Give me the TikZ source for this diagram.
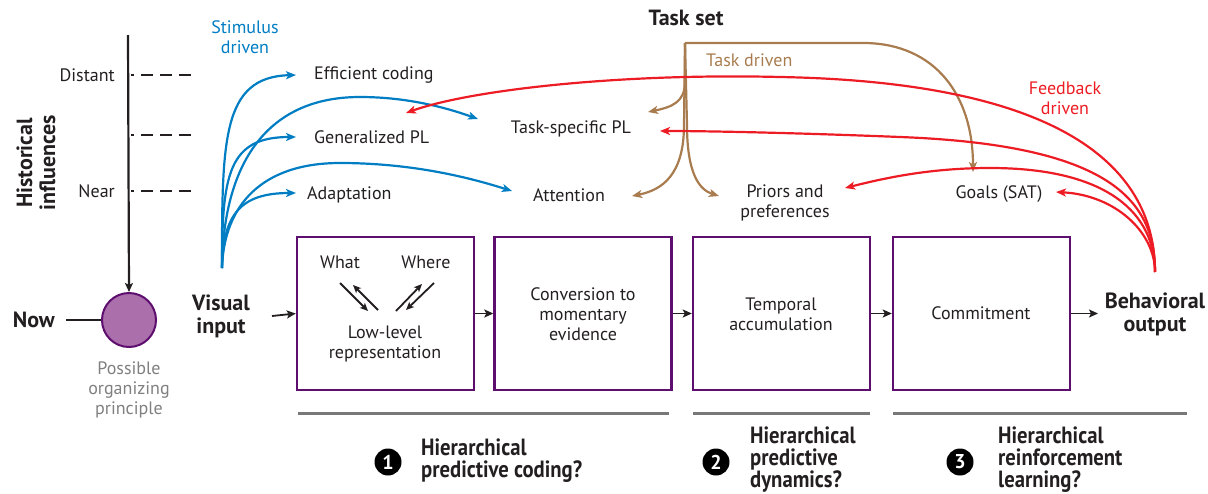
\documentclass[tikz,border=0pt]{standalone}
\usepackage{fontspec}
\setmainfont{PT Sans}
\newfontfamily\condfont[FakeStretch=0.88]{PT Sans}
\usetikzlibrary{arrows.meta}
\definecolor{sblue}{RGB}{0,125,195}
\definecolor{fred}{RGB}{237,28,36}
\definecolor{tbrown}{RGB}{168,124,79}
\definecolor{boxc}{RGB}{94,14,110}
\definecolor{circfill}{RGB}{171,111,171}
\definecolor{txt}{RGB}{35,31,32}
\definecolor{gtxt}{RGB}{128,128,128}
\definecolor{gline}{RGB}{120,120,120}
\tikzset{
  lbl/.style={font=\fontsize{18}{20}\selectfont, text=txt, inner sep=0pt, align=center},
  bld/.style={font=\fontsize{22}{23}\selectfont\bfseries, text=txt, inner sep=0pt, align=center},
  cnd/.style={font=\condfont\fontsize{23.5}{22}\selectfont\bfseries, text=txt, inner sep=0pt, align=left},
  stage/.style={draw=boxc, line width=2.4pt, minimum width=177pt, minimum height=153pt, inner sep=0pt},
  tip/.style={-{Stealth[length=10pt,width=8pt,inset=2.5pt]}},
  blueline/.style={tip, draw=sblue, line width=2.2pt},
  redline/.style={tip, draw=fred, line width=2.2pt},
  brownline/.style={tip, draw=tbrown, line width=2.2pt},
  flow/.style={-{Stealth[length=9pt,width=8pt,inset=2pt]}, draw=txt, line width=1.8pt},
  numc/.style={circle, fill=black, text=white, minimum size=27pt, inner sep=0pt, font=\fontsize{20}{20}\selectfont\bfseries},
  tick/.style={draw=txt, line width=2pt, dash pattern=on 12pt off 7pt, dash phase=9pt},
  sep/.style={draw=gline, line width=3pt},
}
\begin{document}
\begin{tikzpicture}[x=1pt,y=-1pt]
\useasboundingbox (0,0) rectangle (1208,493);

% ---- historical axis ----
\node[bld, rotate=90] (hist) at (36,163) {Historical\\influences};
\coordinate (axtop) at (128,35);
\node[circle, draw=boxc, fill=circfill, line width=2pt, minimum size=54pt, inner sep=0pt] (org) at (129,320) {};
\draw[flow, line width=2.2pt] (axtop) -- (org.north);
\node[lbl, anchor=east] (distant) at (115,75) {Distant};
\node[lbl, anchor=east] (near) at (115,191) {Near};
\coordinate (d1a) at (131,75); \coordinate (d1b) at (193,75);
\coordinate (d2a) at (131,135); \coordinate (d2b) at (193,135);
\coordinate (d3a) at (131,191); \coordinate (d3b) at (193,191);
\draw[tick] (d1a) -- (d1b);
\draw[tick] (d2a) -- (d2b);
\draw[tick] (d3a) -- (d3b);
\node[bld, anchor=east] (now) at (55,320) {Now};
\coordinate (nowend) at (66,320);
\draw[draw=txt, line width=2pt] (nowend) -- (org.west);
\node[lbl, text=gtxt] (poss) at (129,390) {Possible\\organizing\\principle};

% ---- top labels ----
\node[lbl, text=sblue] (stim) at (245,37) {Stimulus\\driven};
\node[bld] (taskset) at (686,18) {Task set};
\node[lbl, text=tbrown, anchor=west] (taskdr) at (706,60) {Task driven};
\node[lbl, text=fred] (feedb) at (1065,98) {Feedback\\driven};

\node[lbl, anchor=west] (eff) at (314,75) {Efficient coding};
\node[lbl, anchor=west] (gen) at (314,137) {Generalized PL};
\node[lbl, anchor=west] (adapt) at (307,195) {Adaptation};
\node[lbl] (tspl) at (571,129) {Task-specific PL};
\node[lbl] (att) at (569,195) {Attention};
\node[lbl] (prior) at (785,203) {Priors and\\preferences};
\node[lbl] (goals) at (999,194) {Goals (SAT)};

% ---- stages ----
\node[stage] (b1) at (385.5,313.5) {};
\node[stage] (b2) at (583,313.5) {};
\node[stage] (b3) at (781.5,313.5) {};
\node[stage] (b4) at (981.5,313.5) {};
\node[bld] (vis) at (221,316) {Visual\\input};
\node[bld] (beh) at (1155,314) {Behavioral\\output};
\coordinate (visend) at (272,316);
\coordinate (behstart) at (1098,313.5);
\draw[flow] (visend) -- (b1.west);
\draw[flow] (b1.east) -- (b2.west);
\draw[flow] (b2.east) -- (b3.west);
\draw[flow] (b3.east) -- (b4.west);
\draw[flow] (b4.east) -- (behstart);

\node[lbl] (what) at (340,262) {What};
\node[lbl] (where) at (426,262) {Where};
\node[lbl] (low) at (385,344) {Low-level\\representation};
\node[lbl] (conv) at (583,314) {Conversion to\\momentary\\evidence};
\node[lbl] (temp) at (781,314) {Temporal\\accumulation};
\node[lbl] (comm) at (981,313) {Commitment};

\coordinate (wa1) at (340,283); \coordinate (wa2) at (368,311);
\coordinate (wb1) at (378,310); \coordinate (wb2) at (353,285);
\coordinate (ha1) at (396,311); \coordinate (ha2) at (422,284);
\coordinate (hb1) at (434,283); \coordinate (hb2) at (406,310);
\draw[-{Stealth[length=8pt,width=7pt,inset=2pt]}, draw=txt, line width=1.8pt] (wa1) -- (wa2);
\draw[-{Stealth[length=8pt,width=7pt,inset=2pt]}, draw=txt, line width=1.8pt] (wb1) -- (wb2);
\draw[-{Stealth[length=8pt,width=7pt,inset=2pt]}, draw=txt, line width=1.8pt] (ha1) -- (ha2);
\draw[-{Stealth[length=8pt,width=7pt,inset=2pt]}, draw=txt, line width=1.8pt] (hb1) -- (hb2);

% ---- stimulus-driven (blue) ----
\coordinate (S) at (222,268);
\coordinate (tEff) at (296,75);
\coordinate (tTs) at (478,119);
\coordinate (tGen) at (296,137);
\coordinate (tAtt) at (512,191);
\coordinate (tAd) at (296,193);
\draw[blueline] (S) .. controls (222,140) and (222,77) .. (tEff);
\draw[blueline] (S) .. controls (223,170) and (262,97) .. (360,97) .. controls (410,97) and (450,109) .. (tTs);
\draw[blueline] (S) .. controls (222,175) and (228,137) .. (tGen);
\draw[blueline] (S) .. controls (224,205) and (262,163) .. (340,163) .. controls (420,163) and (480,181) .. (tAtt);
\draw[blueline] (S) .. controls (223,215) and (240,193) .. (tAd);

% ---- task-driven (brown) ----
\coordinate (T0) at (685,43);
\coordinate (tGoalT) at (973,172);
\coordinate (tTsT) at (648,112);
\coordinate (tAttT) at (632,196);
\coordinate (tPriT) at (719,196);
\draw[brownline, line join=round] (T0) -- (865,43) .. controls (935,44) and (973,95) .. (tGoalT);
\draw[brownline] (T0) -- (685,82) .. controls (685,102) and (672,107) .. (tTsT);
\draw[brownline] (T0) -- (684,125) .. controls (684,175) and (662,190) .. (tAttT);
\draw[brownline] (T0) -- (687,125) .. controls (687,175) and (700,190) .. (tPriT);

% ---- feedback-driven (red) ----
\coordinate (R) at (1155,272);
\coordinate (tGenR) at (406,113);
\coordinate (tTsR) at (660,131);
\coordinate (tPriR) at (845,188);
\coordinate (tGoalR) at (1056,192);
\draw[redline] (R) .. controls (1155,160) and (1050,82) .. (780,77) .. controls (620,73) and (470,90) .. (tGenR);
\draw[redline] (R) .. controls (1155,200) and (1110,145) .. (900,137) .. controls (800,133) and (710,131) .. (tTsR);
\draw[redline] (R) .. controls (1155,215) and (1110,168) .. (990,168) .. controls (930,168) and (885,178) .. (tPriR);
\draw[redline] (R) .. controls (1155,232) and (1115,195) .. (tGoalR);

% ---- bottom ----
\coordinate (g1a) at (298,413); \coordinate (g1b) at (669,413);
\coordinate (g2a) at (693,413); \coordinate (g2b) at (870,413);
\coordinate (g3a) at (893,413); \coordinate (g3b) at (1187,413);
\draw[sep] (g1a) -- (g1b);
\draw[sep] (g2a) -- (g2b);
\draw[sep] (g3a) -- (g3b);
\node[numc] (n1) at (388,462) {1};
\node[numc] (n2) at (716,462) {2};
\node[numc] (n3) at (960,462) {3};
\node[cnd, anchor=west] (h1) at (421,461) {Hierarchical\\predictive coding?};
\node[cnd, anchor=west] (h2) at (750,460) {Hierarchical\\predictive\\dynamics?};
\node[cnd, anchor=west] (h3) at (998,460) {Hierarchical\\reinforcement\\learning?};
\end{tikzpicture}
\end{document}
